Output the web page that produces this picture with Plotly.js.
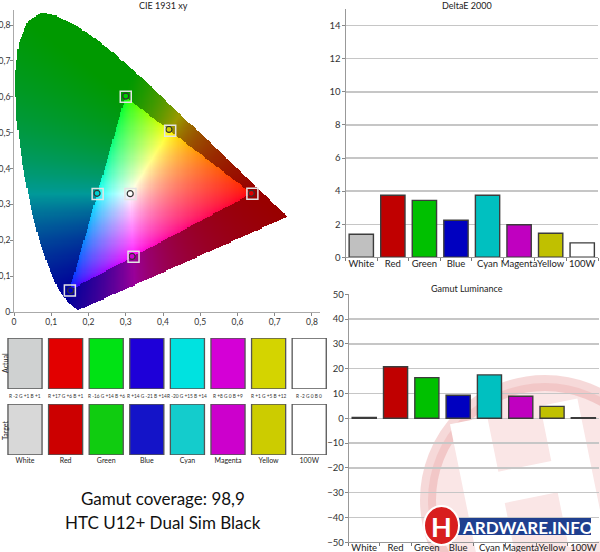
<!DOCTYPE html>
<html><head><meta charset="utf-8">
<script src="https://cdn.plot.ly/plotly-3.0.1.min.js"></script>
<style>html,body{margin:0;padding:0;background:#fff;}#chart{width:600px;height:552px;}</style>
</head><body><div id="chart"></div>
<script>
// ---------------- data ----------------
const categories = ['White','Red','Green','Blue','Cyan','Magenta','Yellow','100W'];
const deltaE = [1.39, 3.75, 3.44, 2.24, 3.75, 1.97, 1.45, 0.87];
const luminance = [0.3, 20.8, 16.4, 9.3, 17.5, 8.9, 4.8, 0.2];
const barColors = ['#c0c0c0','#c00000','#00c000','#0000c0','#00c0c0','#c000c0','#c0c000','#ffffff'];
const actualSwatch = ['#cfd1d1','#e20000','#00e214','#1e00d8','#00e2e0','#d400d6','#d4d400','#ffffff'];
const targetSwatch = ['#d8d8d8','#cc0000','#10cc10','#1414c8','#14cccc','#cc00cc','#cccc00','#ffffff'];
const swatchDiff = ['R -2 G +1 B +1','R +17 G +6 B +1','R -16 G +14 B +6','R +14 G -21 B +14','R -20 G +15 B +14','R +8 G 0 B +9','R +1 G +5 B +12','R -2 G 0 B 0'];
const gamutNames = ['Red','Green','Blue','Cyan','Magenta','Yellow','White'];
const gamutColors = ['#e00000','#00d000','#0000c0','#00d0d0','#d000d0','#d0d000','#ffffff'];
const targetX = [0.640, 0.300, 0.150, 0.2246, 0.3209, 0.4193, 0.3127];
const targetY = [0.330, 0.600, 0.060, 0.3287, 0.1542, 0.5053, 0.3290];
const actualX = [0.637, 0.300, 0.152, 0.223, 0.317, 0.416, 0.312];
const actualY = [0.331, 0.602, 0.060, 0.331, 0.155, 0.509, 0.330];
// CIE 1931 2deg spectral locus (380..700 nm)
const locusX = [0.1741,0.1733,0.1714,0.1689,0.1644,0.1566,0.1440,0.1355,0.1241,0.1096,0.0913,0.0687,0.0454,0.0235,0.0082,0.0039,0.0139,0.0389,0.0743,0.1142,0.1547,0.1929,0.2296,0.2658,0.3016,0.3373,0.3731,0.4087,0.4441,0.4788,0.5125,0.5448,0.5752,0.6029,0.6270,0.6658,0.6915,0.7079,0.7190,0.7260,0.7334,0.7347];
const locusY = [0.0050,0.0048,0.0051,0.0069,0.0109,0.0177,0.0297,0.0399,0.0578,0.0868,0.1327,0.2007,0.2950,0.4127,0.5384,0.6548,0.7502,0.8120,0.8338,0.8262,0.8059,0.7816,0.7543,0.7243,0.6923,0.6589,0.6245,0.5896,0.5547,0.5202,0.4866,0.4544,0.4242,0.3965,0.3725,0.3340,0.3083,0.2920,0.2809,0.2740,0.2666,0.2653];
const cieTicks = [0,0.1,0.2,0.3,0.4,0.5,0.6,0.7,0.8];
const coverageText = 'Gamut coverage: 98,9';
const deviceText = 'HTC U12+ Dual Sim Black';

// ---------------- helpers ----------------
const W = 600, H = 552;
const px = v => v / W;
const py = v => 1 - v / H;
const FONT = 'Lato, "Open Sans", sans-serif';

function insidePoly(x, y, xs, ys) {
  let ins = false;
  for (let i = 0, j = xs.length - 1; i < xs.length; j = i++) {
    if (((ys[i] > y) !== (ys[j] > y)) &&
        (x < (xs[j] - xs[i]) * (y - ys[i]) / (ys[j] - ys[i]) + xs[i])) ins = !ins;
  }
  return ins;
}
function chromaColor(x, y) {
  const X = x / y, Z = (1 - x - y) / y;
  let r = 3.2406 * X - 1.5372 - 0.4986 * Z;
  let g = -0.9689 * X + 1.8758 + 0.0415 * Z;
  let b = 0.0557 * X - 0.2040 + 1.0570 * Z;
  const inside = r >= 0 && g >= 0 && b >= 0;
  r = Math.max(r, 0); g = Math.max(g, 0); b = Math.max(b, 0);
  const m = Math.max(r, g, b) || 1;
  r /= m; g /= m; b /= m;
  if (inside) {
    r = Math.pow(r, 0.6); g = Math.pow(g, 0.6); b = Math.pow(b, 0.6);
  } else {
    r *= 0.6; g *= 0.6; b *= 0.6;
  }
  return [Math.round(r * 255), Math.round(g * 255), Math.round(b * 255), 1];
}
const step = 0.003, nx = 250, ny = 282;
const img = [];
for (let j = 0; j < ny; j++) {
  const row = [];
  const yy = j * step;
  for (let i = 0; i < nx; i++) {
    const xx = i * step;
    if (yy > 0.001 && insidePoly(xx, yy, locusX, locusY)) row.push(chromaColor(xx, yy));
    else row.push([255, 255, 255, 0]);
  }
  img.push(row);
}

// ---------------- traces ----------------
const traces = [];
traces.push({type: 'image', z: img, colormodel: 'rgba', x0: 0, dx: step, y0: 0, dy: step,
  xaxis: 'x', yaxis: 'y', hoverinfo: 'skip'});
traces.push({type: 'scatter', mode: 'markers', x: actualX, y: actualY, xaxis: 'x', yaxis: 'y',
  marker: {symbol: 'circle', size: 6, color: gamutColors, line: {color: '#333', width: 1.2}},
  hoverinfo: 'skip', showlegend: false});
traces.push({type: 'scatter', mode: 'markers', x: targetX, y: targetY, xaxis: 'x', yaxis: 'y',
  marker: {symbol: 'square-open', size: 11, color: '#e4e4e4', line: {width: 1.5}},
  hoverinfo: 'skip', showlegend: false});

traces.push({type: 'bar', x: categories, y: deltaE, xaxis: 'x2', yaxis: 'y2', width: 0.77,
  marker: {color: barColors, line: {color: '#3c3c3c', width: 1.4}}, hoverinfo: 'skip', showlegend: false});
traces.push({type: 'bar', x: categories, y: luminance, xaxis: 'x3', yaxis: 'y3', width: 0.77,
  marker: {color: barColors, line: {color: '#3c3c3c', width: 1.4}}, hoverinfo: 'skip', showlegend: false});

traces.push({type: 'bar', x: categories, y: categories.map(() => 1), xaxis: 'x4', yaxis: 'y4', width: 0.84,
  marker: {color: actualSwatch, line: {color: '#555', width: 1.3}}, hoverinfo: 'skip', showlegend: false});
traces.push({type: 'bar', x: categories, y: categories.map(() => 1), xaxis: 'x5', yaxis: 'y5', width: 0.84,
  marker: {color: targetSwatch, line: {color: '#555', width: 1.3}}, hoverinfo: 'skip', showlegend: false});

// ---------------- layout ----------------
const tickFont = {family: FONT, size: 8.5, color: '#333'};
const catFont = {family: FONT, size: 9.5, color: '#222'};
const valAxis = {showgrid: true, gridcolor: '#c6c6c6', gridwidth: 1.3, zeroline: true, zerolinecolor: '#c6c6c6', zerolinewidth: 1.3,
  showline: true, linecolor: '#999', linewidth: 1, ticks: 'outside', ticklen: 3, tickcolor: '#888',
  tickfont: {family: FONT, size: 9.5, color: '#333'}, ticklabelstandoff: -1, fixedrange: true};
const catAxis = {type: 'category', range: [-0.5, 7.5], showline: true, linecolor: '#999', linewidth: 1,
  ticks: 'outside', tickson: 'boundaries', ticklen: 3, tickcolor: '#777', showgrid: false, tickangle: 0,
  ticklabelstandoff: -3, tickfont: catFont, fixedrange: true};

// watermark H (tilted)
function hPath(cx, cy, s, ang) {
  const pts = [[-65,-72],[-27,-72],[-27,-16],[27,-16],[27,-72],[65,-72],[65,72],[27,72],[27,16],[-27,16],[-27,72],[-65,72]];
  const c = Math.cos(ang), sn = Math.sin(ang);
  return pts.map((p, k) => {
    const X = cx + s * (p[0] * c - p[1] * sn), Y = cy + s * (p[0] * sn + p[1] * c);
    return (k ? 'L' : 'M') + px(X).toFixed(4) + ',' + py(Y).toFixed(4);
  }).join(' ') + ' Z';
}
function ann(text, x, y, size, extra) {
  return Object.assign({text: text, xref: 'paper', yref: 'paper', x: px(x), y: py(y), xanchor: 'center', yanchor: 'middle',
    showarrow: false, font: {family: FONT, size: size, color: '#222'}}, extra || {});
}

const layout = {
  width: W, height: H, margin: {l: 0, r: 0, t: 0, b: 0},
  paper_bgcolor: '#fff', plot_bgcolor: 'rgba(0,0,0,0)',
  separators: ',.', showlegend: false, bargap: 0.2,
  font: {family: FONT, color: '#222'},
  xaxis: {domain: [px(14), px(320)], range: [0, 0.8215], tickvals: cieTicks, ticks: 'outside', ticklen: 3, tickcolor: '#888',
    showline: true, linecolor: '#aaa', linewidth: 1, zeroline: false, showgrid: false, tickfont: tickFont, anchor: 'y',
    ticklabelstandoff: -1, fixedrange: true},
  yaxis: {domain: [py(312), py(10)], range: [0, 0.842], tickvals: cieTicks, ticks: 'outside', ticklen: 3, tickcolor: '#888',
    showline: true, linecolor: '#aaa', linewidth: 1, zeroline: false, showgrid: false, tickfont: tickFont, anchor: 'x',
    ticklabelstandoff: -2, scaleanchor: false, autorange: false, fixedrange: true},
  xaxis2: Object.assign({}, catAxis, {domain: [px(345.5), px(598)], anchor: 'y2'}),
  yaxis2: Object.assign({}, valAxis, {domain: [py(257.3), py(9.2)], range: [0, 15], dtick: 2, anchor: 'x2'}),
  xaxis3: Object.assign({}, catAxis, {domain: [px(348.6), px(599)], anchor: 'y3', ticklabelstandoff: -4}),
  yaxis3: Object.assign({}, valAxis, {domain: [py(542.3), py(294.3)], range: [-50, 50], dtick: 10, anchor: 'x3'}),
  xaxis4: {type: 'category', domain: [0, px(330)], range: [-0.616, 7.512], anchor: 'y4', showticklabels: false,
    showline: false, showgrid: false, zeroline: false, ticks: '', fixedrange: true},
  yaxis4: {domain: [py(389), py(338)], range: [0, 1], visible: false, anchor: 'x4', fixedrange: true},
  xaxis5: {type: 'category', domain: [0, px(330)], range: [-0.616, 7.512], anchor: 'y5', showticklabels: true, tickangle: 0,
    tickfont: {family: FONT, size: 7, color: '#222'}, showline: false, showgrid: false, zeroline: false, ticks: '', fixedrange: true},
  yaxis5: {domain: [py(455), py(404)], range: [0, 1], visible: false, anchor: 'x5', fixedrange: true},
  shapes: [
    {type: 'circle', xref: 'paper', yref: 'paper', layer: 'below',
      x0: px(545 - 117), x1: px(545 + 117), y0: py(500 + 117), y1: py(500 - 117),
      fillcolor: 'rgba(235,160,160,0.26)', line: {color: 'rgba(225,130,130,0.30)', width: 16}},
    {type: 'path', xref: 'paper', yref: 'paper', layer: 'below', path: hPath(528, 482, 1, -0.2),
      fillcolor: '#ffffff', line: {width: 0}},
    {type: 'rect', xref: 'paper', yref: 'paper', layer: 'above', x0: px(425), x1: px(591), y0: py(535), y1: py(518),
      fillcolor: '#1f3f8f', line: {width: 0}},
    {type: 'circle', xref: 'paper', yref: 'paper', layer: 'above', x0: px(424), x1: px(459), y0: py(545), y1: py(506),
      fillcolor: '#d81e1e', line: {color: '#ffffff', width: 2}}
  ],
  annotations: [
    ann('CIE 1931 xy', 163, 5, 9),
    ann('DeltaE 2000', 467, 5, 9),
    ann('Gamut Luminance', 467, 288, 9),
    ann('Actual', 5, 363, 7, {textangle: -90}),
    ann('Target', 5, 430, 7, {textangle: -90}),
    ann(coverageText, 163, 498, 17, {font: {family: FONT, size: 17, color: '#111'}}),
    ann(deviceText, 163, 522, 17, {font: {family: FONT, size: 17, color: '#111'}}),
    ann('<b>H</b>', 441.5, 526, 27, {font: {family: FONT, size: 27, color: '#fff'}}),
    ann('<b>ARDWARE.INFO</b>', 460, 527, 17, {xanchor: 'left', font: {family: FONT, size: 17, color: '#fff'}})
  ].concat(swatchDiff.map((t, i) => ({text: t, xref: 'x4', yref: 'paper', x: categories[i], y: py(396), xanchor: 'center', yanchor: 'middle',
    showarrow: false, font: {family: FONT, size: 4.8, color: '#333'}})))
};

Plotly.newPlot('chart', traces, layout, {staticPlot: true, displayModeBar: false});
</script></body></html>
